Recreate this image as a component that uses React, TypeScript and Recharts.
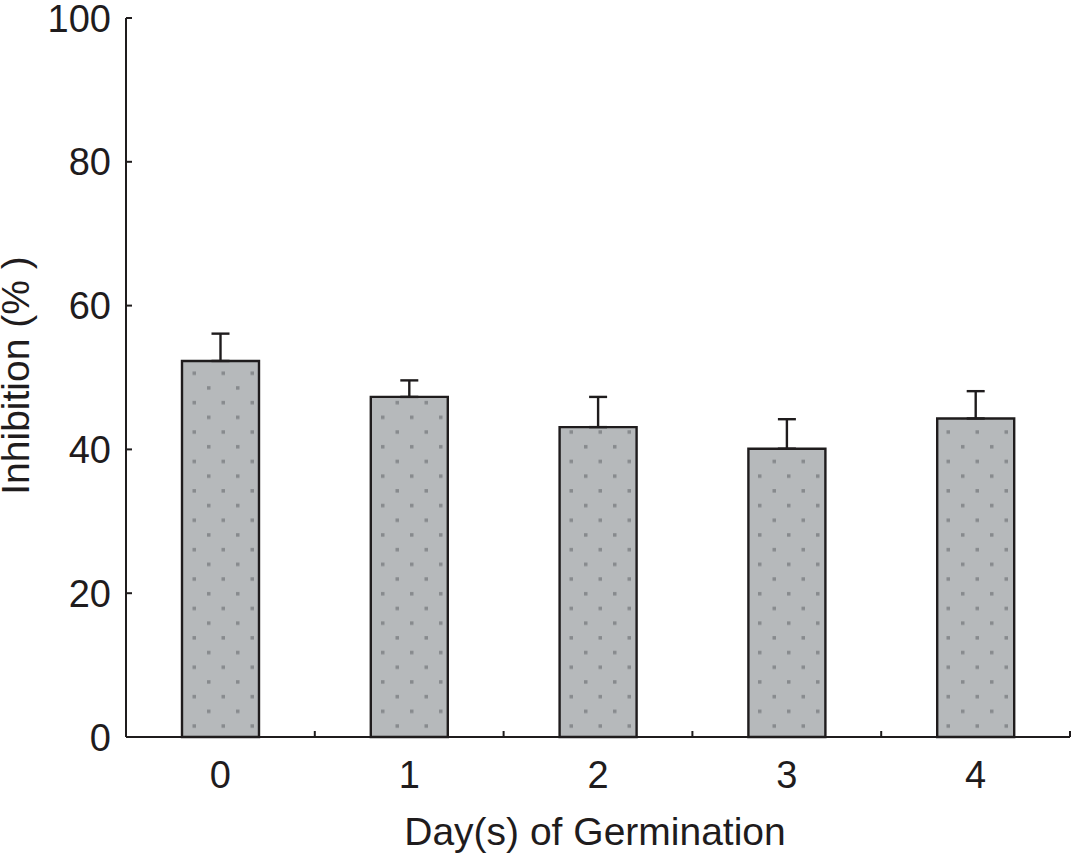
import { Bar, BarChart, ErrorBar, XAxis, YAxis } from 'recharts'

const days = ['0', '1', '2', '3', '4']
const inhibition = [52.3, 47.3, 43.1, 40.1, 44.3]
const sem = [3.8, 2.3, 4.2, 4.1, 3.8]
const yTicks = [0, 20, 40, 60, 80, 100]

const data = days.map((day, i) => ({
    day,
    value: inhibition[i],
    err: [0, sem[i]],
}))

const ink = '#1f1c1d'
const font = '"Liberation Sans", Arial, sans-serif'

const YTick = (props: any) => {
    const { x, y, payload } = props
    return (
        <g>
            <line x1={x} x2={x + 6} y1={y} y2={y} stroke={ink} strokeWidth={2} />
            <text x={x - 15} y={y} dy="0.36em" textAnchor="end" fontSize={38} fill={ink}>
                {payload.value}
            </text>
        </g>
    )
}

const XTick = (props: any) => {
    const { x, y, payload } = props
    const half = payload.offset ?? 0
    return (
        <g>
            <line x1={x + half} x2={x + half} y1={y} y2={y - 6} stroke={ink} strokeWidth={2} />
            <text x={x} y={y + 51} textAnchor="middle" fontSize={38} fill={ink}>
                {payload.value}
            </text>
        </g>
    )
}

const YLabel = (props: any) => {
    const { viewBox } = props
    const cx = viewBox.x + 29
    const cy = viewBox.y + viewBox.height / 2 - 2
    return (
        <text
            x={cx}
            y={cy}
            textAnchor="middle"
            fontSize={39}
            fill={ink}
            transform={`rotate(-90, ${cx}, ${cy})`}
        >
            Inhibition (% )
        </text>
    )
}

const XLabel = (props: any) => {
    const { viewBox } = props
    return (
        <text
            x={viewBox.x + viewBox.width / 2 - 3}
            y={viewBox.y + 108}
            textAnchor="middle"
            fontSize={39}
            fill={ink}
        >
            Day(s) of Germination
        </text>
    )
}

export default function App() {
    return (
        <div style={{ width: 1072, height: 854, background: '#fff' }}>
            <style>{'body{margin:0}'}</style>
            <BarChart
                width={1072}
                height={854}
                data={data}
                margin={{ top: 18, right: 2, left: 0, bottom: 0 }}
                style={{ fontFamily: font }}
            >
                <defs>
                    <pattern id="dots" width={29} height={29.4} patternUnits="userSpaceOnUse">
                        <rect width={29} height={29.4} fill="#b6b9bb" />
                        <rect x={4} y={4} width={3.5} height={3.5} fill="#878a8d" />
                        <rect x={18.5} y={18.7} width={3.5} height={3.5} fill="#878a8d" />
                    </pattern>
                </defs>
                <XAxis
                    dataKey="day"
                    height={117}
                    tickLine={false}
                    tickSize={0}
                    tickMargin={0}
                    axisLine={{ stroke: ink, strokeWidth: 2 }}
                    tick={<XTick />}
                    interval={0}
                    label={<XLabel />}
                />
                <YAxis
                    width={126}
                    domain={[0, 100]}
                    ticks={yTicks}
                    tickLine={false}
                    tickSize={0}
                    tickMargin={0}
                    axisLine={{ stroke: ink, strokeWidth: 2 }}
                    tick={<YTick />}
                    interval={0}
                    label={<YLabel />}
                />
                <Bar
                    dataKey="value"
                    barSize={77}
                    fill="url(#dots)"
                    stroke={ink}
                    strokeWidth={2.4}
                    isAnimationActive={false}
                >
                    <ErrorBar
                        dataKey="err"
                        direction="y"
                        width={9}
                        stroke={ink}
                        strokeWidth={2.4}
                        isAnimationActive={false}
                    />
                </Bar>
            </BarChart>
        </div>
    )
}
